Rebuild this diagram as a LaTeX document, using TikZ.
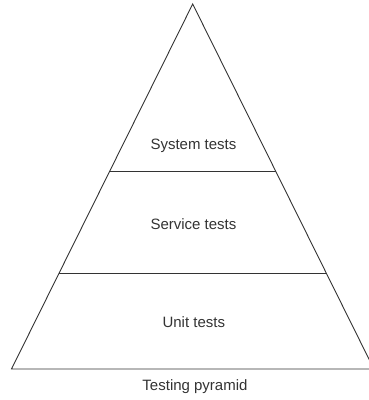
\documentclass[tikz,border=0pt]{standalone}
\usepackage{fontspec}
\setmainfont{Liberation Sans}
\usepackage{xcolor}
\usetikzlibrary{calc}
\definecolor{ink}{HTML}{333333}
\tikzset{
  edge/.style={draw=ink,line width=0.9pt,line join=miter},
  tier/.style={anchor=base,text=ink,inner sep=0pt,font=\fontsize{15}{18}\selectfont}
}

\begin{document}
\begin{tikzpicture}[x=1pt,y=-1pt]
    \useasboundingbox (0,0) rectangle (369,400);

    \coordinate (apex) at (192.7,4);
    \coordinate (bl) at (11.5,369);
    \coordinate (br) at (373.9,369);
    \draw[edge] (bl) -- (apex) -- (br) -- cycle;

    \coordinate (sysl) at ($(apex)!0.460!(bl)$);
    \coordinate (sysr) at ($(apex)!0.460!(br)$);
    \coordinate (unil) at ($(apex)!0.737!(bl)$);
    \coordinate (unir) at ($(apex)!0.737!(br)$);
    \draw[edge] (sysl) -- (sysr);
    \draw[edge] (unil) -- (unir);

    \node[tier] (system) at (193.5,149) {System tests};
    \node[tier] (service) at (193.5,229) {Service tests};
    \node[tier] (unit) at (193.8,327) {Unit tests};
    \node[tier] (caption) at (195,390) {Testing pyramid};
  \end{tikzpicture}
\end{document}
